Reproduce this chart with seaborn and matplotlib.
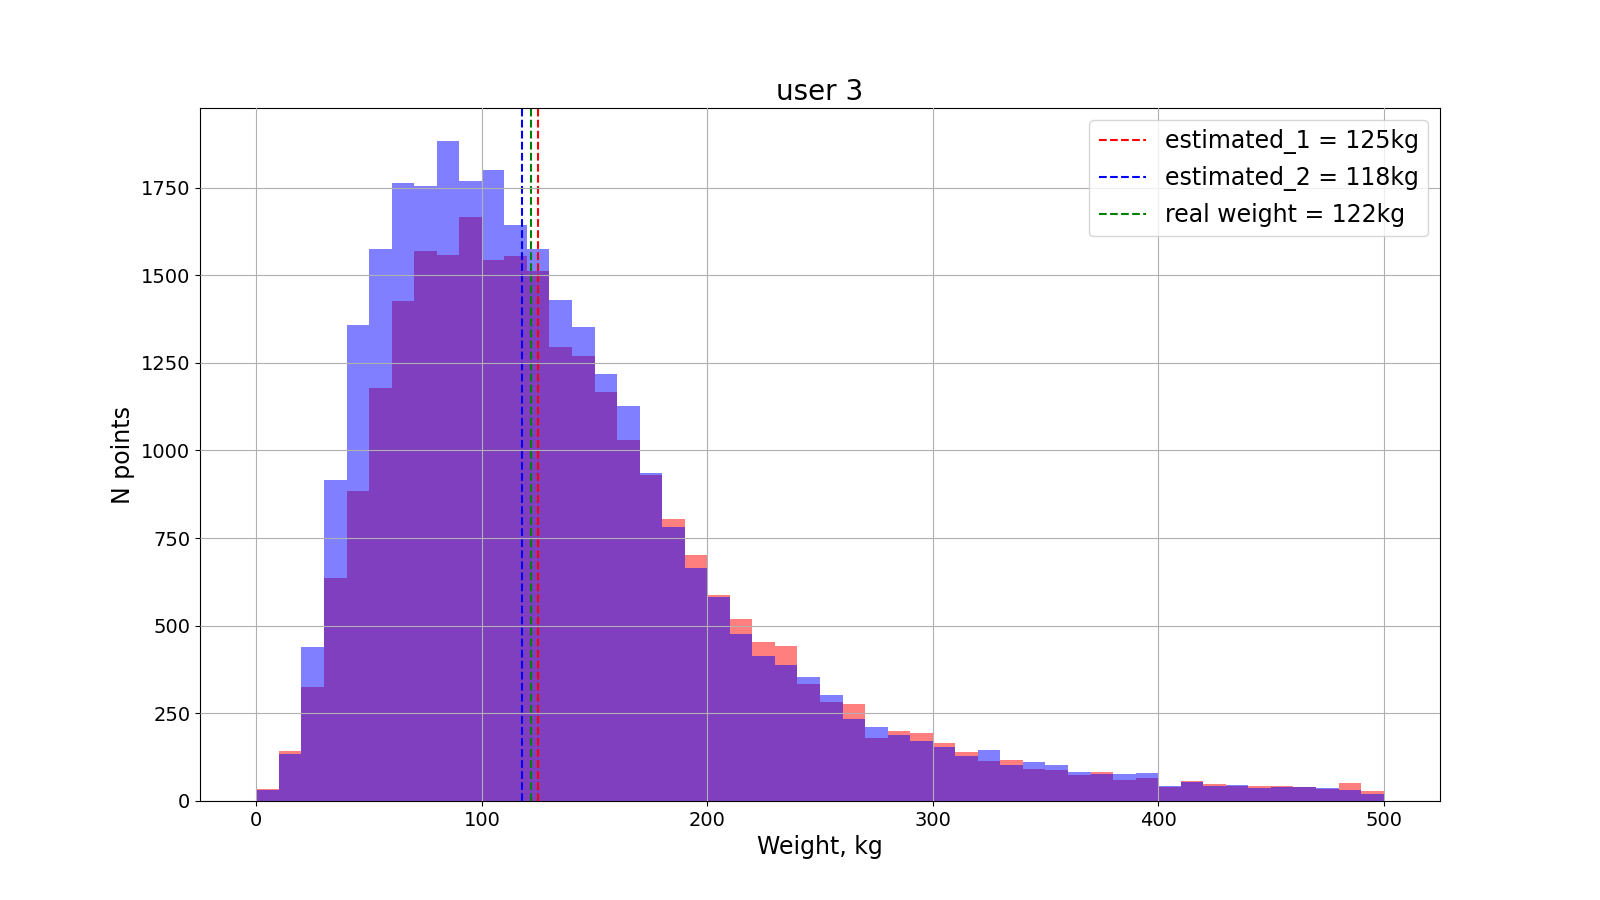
import numpy as np
import pandas as pd
import matplotlib
matplotlib.use("Agg")
import matplotlib.pyplot as plt
import seaborn as sns

# Bin edges: 0..500 kg in 10 kg steps
bin_edges = list(range(0, 510, 10))

# Counts per bin
counts_est1 = [33, 142, 325, 637, 884, 1179, 1426, 1569, 1557, 1666,
               1543, 1554, 1512, 1295, 1269, 1166, 1029, 929, 804, 701,
               587, 518, 453, 441, 333, 282, 276, 179, 199, 193,
               165, 139, 113, 116, 90, 88, 73, 82, 59, 65,
               39, 56, 48, 42, 42, 42, 39, 33, 51, 28]
counts_est2 = [30, 133, 439, 915, 1358, 1574, 1763, 1754, 1883, 1769,
               1800, 1643, 1574, 1429, 1352, 1218, 1126, 935, 781, 664,
               581, 476, 413, 387, 353, 302, 233, 210, 188, 170,
               153, 128, 145, 102, 110, 102, 82, 76, 76, 79,
               42, 53, 42, 45, 36, 41, 40, 36, 30, 19]

estimated_1 = 125
estimated_2 = 118
real_weight = 122

title = "user 3"
xlabel = "Weight, kg"
ylabel = "N points"

centers = [(bin_edges[i] + bin_edges[i + 1]) / 2 for i in range(len(bin_edges) - 1)]
df1 = pd.DataFrame({"w": centers, "n": counts_est1})
df2 = pd.DataFrame({"w": centers, "n": counts_est2})

fig, ax = plt.subplots(figsize=(16, 9), dpi=100)

sns.histplot(data=df1, x="w", weights="n", bins=bin_edges, color="red",
             alpha=0.5, linewidth=0, ax=ax)
sns.histplot(data=df2, x="w", weights="n", bins=bin_edges, color="blue",
             alpha=0.5, linewidth=0, ax=ax)

ax.axvline(estimated_1, color="red", linestyle="--", label=f"estimated_1 = {estimated_1}kg")
ax.axvline(estimated_2, color="blue", linestyle="--", label=f"estimated_2 = {estimated_2}kg")
ax.axvline(real_weight, color="green", linestyle="--", label=f"real weight = {real_weight}kg")

ax.grid(True, color="#b0b0b0", linewidth=0.8)
ax.set_axisbelow(False)
ax.set_title(title, fontsize=20)
ax.set_xlabel(xlabel, fontsize=17)
ax.set_ylabel(ylabel, fontsize=17)
ax.tick_params(labelsize=14)
ax.legend(loc="upper right", fontsize=17, labelspacing=0.5)

fig.savefig("out.png", dpi=100)
